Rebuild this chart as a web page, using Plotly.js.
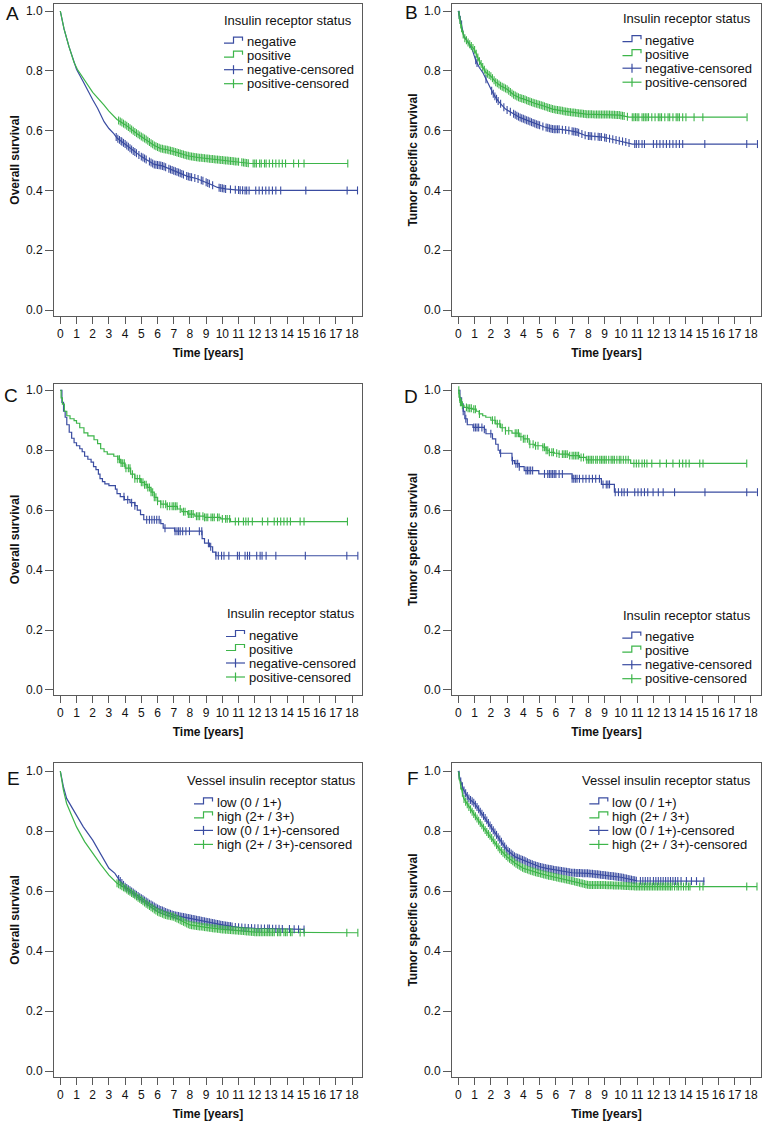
<!DOCTYPE html>
<html><head><meta charset="utf-8">
<script src="https://cdn.plot.ly/plotly-3.0.1.min.js"></script>
<style>html,body{margin:0;padding:0;background:#fff;}#chart{width:765px;height:1125px;}</style>
</head><body><div id="chart"></div>
<script>
// ---------------- DATA ----------------
const xTickVals = [0,1,2,3,4,5,6,7,8,9,10,11,12,13,14,15,16,17,18];
const xTickText = ['0','1','2','3','4','5','6','7','8','9','10','11','12','13','14','15','16','17','18'];
const yTickVals = [0,0.2,0.4,0.6,0.8,1.0];
const yTickText = ['0.0','0.2','0.4','0.6','0.8','1.0'];

const xTitle = 'Time [years]';
const yTitleOS = 'Overall survival';
const yTitleTSS = 'Tumor specific survival';
const legendTitleIR = 'Insulin receptor status';
const legendTitleVIR = 'Vessel insulin receptor status';
const namesIR = ['negative','positive','negative-censored','positive-censored'];
const namesVIR = ['low (0 / 1+)','high (2+ / 3+)','low (0 / 1+)-censored','high (2+ / 3+)-censored'];
const panelLetters = ['A','B','C','D','E','F'];

// Panel A: overall survival, insulin receptor
const A_neg_t = [0,0.23,0.54,0.85,1.0,1.4,1.67,2.0,2.3,2.7,3.0,3.3,3.5,4.0,4.5,5.0,5.4,5.8,6.3,6.8,7.3,7.85,8.4,8.9,9.3,9.7,10.2,10.8,11.3,18.36];
const A_neg_s = [1.0,0.94,0.88,0.83,0.805,0.765,0.736,0.703,0.675,0.63,0.607,0.59,0.575,0.555,0.532,0.513,0.50,0.487,0.482,0.47,0.46,0.447,0.44,0.43,0.42,0.41,0.405,0.402,0.40,0.40];
const A_pos_t = [0,0.23,0.54,0.85,1.05,1.67,2.0,2.7,3.0,3.5,4.0,4.76,5.3,5.8,6.2,6.6,7.2,7.85,8.5,9.2,9.9,10.8,11.75,17.74];
const A_pos_s = [1.0,0.94,0.88,0.828,0.805,0.756,0.728,0.685,0.665,0.637,0.62,0.589,0.57,0.55,0.54,0.536,0.527,0.516,0.51,0.506,0.502,0.497,0.49,0.49];
const A_neg_cens = [3.45,3.55,3.65,3.75,3.8,3.9,4.0,4.1,4.2,4.3,4.4,4.5,4.6,4.7,4.85,5.0,5.1,5.2,5.3,5.5,5.6,5.7,5.8,5.9,6.0,6.1,6.2,6.3,6.4,6.5,6.7,6.8,6.9,7.0,7.1,7.2,7.3,7.4,7.5,7.6,7.8,7.9,8.0,8.1,8.3,8.5,8.7,8.8,9.0,9.1,9.2,9.4,9.8,9.9,10.0,10.1,10.2,10.5,10.8,11.0,11.1,11.25,11.4,11.5,11.65,12.06,12.27,12.47,12.68,12.88,13.09,13.3,13.6,15.15,17.7,18.34];
const A_pos_cens = [3.6,3.7,3.8,3.9,4.0,4.1,4.2,4.3,4.4,4.5,4.6,4.7,4.8,4.9,5.0,5.1,5.2,5.3,5.4,5.5,5.6,5.7,5.8,5.9,6.0,6.1,6.2,6.3,6.4,6.5,6.6,6.7,6.8,6.9,7.0,7.1,7.2,7.3,7.4,7.5,7.6,7.7,7.8,7.9,8.0,8.1,8.2,8.3,8.4,8.5,8.6,8.7,8.8,8.9,9.0,9.1,9.2,9.3,9.4,9.5,9.6,9.7,9.8,9.9,10.0,10.1,10.2,10.3,10.4,10.5,10.6,10.7,10.8,10.9,11.0,11.2,11.3,11.4,11.5,11.6,11.9,12.0,12.1,12.3,12.4,12.6,12.7,12.9,13.1,13.3,13.5,13.7,13.9,14.4,14.7,15.04,17.74];

// Panel B: tumor specific survival, insulin receptor
const B_neg_t = [0,0.1,0.2,0.35,0.6,0.86,1.07,1.3,1.5,1.69,1.9,2.1,2.3,2.51,2.9,3.3,3.75,4.2,4.77,5.3,5.8,6.3,6.83,7.3,7.86,8.4,8.9,9.4,9.9,10.3,10.7,18.36];
const B_neg_s = [1.0,0.975,0.955,0.915,0.895,0.87,0.835,0.81,0.795,0.773,0.75,0.728,0.71,0.695,0.672,0.66,0.645,0.635,0.622,0.612,0.605,0.604,0.60,0.595,0.583,0.58,0.578,0.572,0.566,0.562,0.555,0.555];
const B_pos_t = [0,0.07,0.14,0.25,0.35,0.6,0.86,1.0,1.28,1.69,2.0,2.3,2.6,3.0,3.4,3.75,4.0,4.4,4.77,5.2,5.8,6.3,6.83,7.3,7.86,8.5,9.2,9.9,10.5,17.74];
const B_pos_s = [1.0,0.98,0.957,0.93,0.912,0.895,0.879,0.87,0.834,0.795,0.782,0.762,0.75,0.738,0.72,0.71,0.706,0.697,0.69,0.683,0.672,0.667,0.662,0.659,0.655,0.654,0.654,0.652,0.645,0.645];
const B_neg_cens = [0.05,0.12,0.2,1.07,1.15,1.7,2.05,2.15,2.25,2.35,2.45,2.6,2.8,3.0,3.2,3.4,3.5,3.6,3.7,3.8,3.9,4.0,4.1,4.2,4.3,4.4,4.5,4.6,4.7,4.8,4.9,5.0,5.2,5.4,5.5,5.6,5.7,5.8,5.9,6.0,6.1,6.2,6.4,6.6,6.8,7.0,7.1,7.2,7.3,7.4,7.6,7.8,8.0,8.1,8.2,8.4,8.6,8.7,8.8,9.0,9.1,9.3,9.5,9.7,9.9,10.1,10.3,10.5,10.85,10.95,11.1,11.3,11.45,12.0,12.2,12.4,12.6,12.8,13.0,13.2,13.4,13.6,13.8,15.16,17.74,18.4];
const B_pos_cens = [0.05,0.1,0.15,0.2,0.3,0.4,0.5,0.6,0.7,0.8,0.9,1.0,1.1,1.2,1.3,1.4,1.5,1.6,1.7,1.8,1.9,2.0,2.1,2.2,2.3,2.4,2.5,2.6,2.7,2.8,2.9,3.0,3.1,3.2,3.3,3.4,3.5,3.6,3.7,3.8,3.9,4.0,4.1,4.2,4.3,4.4,4.5,4.6,4.7,4.8,4.9,5.0,5.1,5.2,5.3,5.4,5.5,5.6,5.7,5.8,5.9,6.0,6.1,6.2,6.3,6.4,6.5,6.6,6.7,6.8,6.9,7.0,7.1,7.2,7.3,7.4,7.5,7.6,7.7,7.8,7.9,8.0,8.1,8.2,8.3,8.4,8.5,8.6,8.7,8.8,8.9,9.0,9.1,9.2,9.3,9.4,9.5,9.6,9.7,9.8,9.9,10.0,10.1,10.2,10.4,10.7,10.8,10.9,11.0,11.1,11.3,11.4,11.5,11.6,11.7,11.9,12.1,12.3,12.4,12.5,12.7,12.9,13.0,13.2,13.4,13.5,13.6,13.8,14.0,14.5,15.04,17.76];

// Panel C: overall survival, insulin receptor (subgroup)
const C_neg_t = [0,0.1,0.2,0.3,0.4,0.55,0.7,0.85,1.0,1.2,1.35,1.5,1.7,1.9,2.05,2.2,2.35,2.45,2.6,2.75,3.0,3.4,3.5,3.7,3.95,4.3,4.6,4.75,4.95,5.15,6.2,6.35,7.05,8.75,8.9,9.2,9.4,9.6,18.36];
const C_neg_s = [1.0,0.96,0.93,0.91,0.885,0.86,0.84,0.825,0.815,0.805,0.795,0.78,0.77,0.76,0.745,0.735,0.72,0.705,0.695,0.688,0.682,0.67,0.655,0.645,0.635,0.625,0.615,0.60,0.585,0.568,0.555,0.54,0.53,0.505,0.49,0.478,0.46,0.448,0.448];
const C_pos_t = [0,0.05,0.13,0.25,0.4,0.6,0.85,1.0,1.2,1.46,1.7,2.08,2.3,2.49,2.7,2.9,3.3,3.55,3.73,4.0,4.34,4.6,4.96,5.2,5.37,5.6,5.8,6.0,6.2,6.6,7.23,7.5,7.86,8.3,8.9,9.9,10.5,17.72];
const C_pos_s = [1.0,0.975,0.954,0.93,0.915,0.905,0.899,0.89,0.875,0.858,0.848,0.835,0.822,0.805,0.795,0.787,0.78,0.77,0.757,0.74,0.72,0.705,0.693,0.685,0.676,0.66,0.643,0.63,0.62,0.613,0.604,0.595,0.587,0.58,0.576,0.571,0.562,0.562];
const C_neg_cens = [3.93,4.16,4.4,4.6,5.33,5.5,5.65,5.8,5.95,6.1,6.46,7.08,7.2,7.3,7.4,7.55,7.75,7.97,8.58,8.73,9.14,9.28,9.6,9.75,9.95,10.1,10.4,10.93,11.05,11.4,11.55,11.68,12.12,12.33,12.45,12.7,13.3,15.12,17.68,18.36];
const C_pos_cens = [3.55,3.65,3.75,3.85,3.95,4.05,4.2,4.3,4.45,4.6,4.75,4.9,5.0,5.1,5.2,5.3,5.4,5.5,5.6,5.7,5.8,5.9,6.0,6.2,6.35,6.5,6.6,6.75,6.9,7.0,7.1,7.2,7.4,7.6,7.7,7.9,8.0,8.1,8.2,8.4,8.5,8.6,8.8,8.9,9.0,9.1,9.3,9.4,9.5,9.7,9.8,10.0,10.2,10.3,10.45,10.8,11.0,11.3,11.45,11.6,11.85,12.47,12.8,13.2,13.4,13.6,13.8,14.0,14.2,14.8,15.04,17.72];

// Panel D: tumor specific survival, insulin receptor (subgroup)
const D_neg_t = [0,0.1,0.2,0.3,0.4,0.55,0.9,1.6,1.7,2.1,2.3,2.45,2.55,3.3,3.45,3.75,4.05,4.95,7.0,8.8,9.6,18.36];
const D_neg_s = [1.0,0.975,0.955,0.93,0.905,0.885,0.876,0.87,0.855,0.838,0.82,0.80,0.79,0.765,0.755,0.745,0.732,0.721,0.705,0.686,0.66,0.66];
const D_pos_t = [0,0.04,0.1,0.2,0.35,0.6,0.86,1.1,1.28,1.5,1.69,2.0,2.3,2.6,2.9,3.3,3.75,4.0,4.36,4.7,5.19,5.4,5.6,5.9,6.2,6.8,7.45,7.86,10.6,17.74];
const D_pos_s = [1.0,0.977,0.96,0.95,0.943,0.94,0.937,0.93,0.921,0.915,0.91,0.90,0.888,0.875,0.865,0.857,0.845,0.838,0.82,0.815,0.81,0.80,0.793,0.79,0.787,0.782,0.776,0.768,0.756,0.756];
const D_neg_cens = [0.3,0.46,0.95,1.05,1.15,1.25,1.45,1.6,2.0,2.6,3.33,3.54,3.65,3.75,4.16,4.25,4.35,4.45,4.57,5.3,5.5,5.6,5.7,5.8,5.9,6.0,6.2,6.4,7.0,7.1,7.2,7.3,7.45,7.66,7.85,8.05,8.25,8.45,8.68,8.9,9.1,9.2,9.3,9.65,9.85,10.05,10.2,10.4,10.85,11.05,11.25,11.45,11.65,11.98,12.3,12.6,13.3,15.17,17.74,18.4];
const D_pos_cens = [0.03,0.08,0.13,0.18,0.25,0.5,0.6,0.7,0.8,0.95,1.05,1.3,2.1,2.25,2.4,2.55,2.7,2.9,3.1,3.5,3.6,3.7,3.85,4.0,4.1,4.25,4.4,4.6,4.75,4.9,5.2,5.3,5.4,5.5,5.6,5.75,5.85,6.05,6.2,6.4,6.5,6.6,6.7,6.85,7.0,7.1,7.2,7.3,7.4,7.55,7.7,7.9,8.0,8.1,8.2,8.3,8.45,8.55,8.7,8.8,8.9,9.0,9.1,9.25,9.4,9.5,9.6,9.75,9.9,10.0,10.15,10.3,10.45,10.8,10.95,11.1,11.3,11.45,11.6,11.9,12.4,12.8,13.2,13.6,13.8,14.0,14.2,14.85,15.05,17.74];

// Panel E: overall survival, vessel insulin receptor
const E_low_t = [0,0.1,0.19,0.39,0.7,1.0,1.42,2.0,2.45,2.75,3.0,3.37,3.6,4.0,4.5,5.0,5.5,6.0,6.5,7.0,8.0,9.0,10.0,11.0,12.0,15.04];
const E_low_s = [1.0,0.97,0.948,0.909,0.881,0.853,0.814,0.77,0.726,0.70,0.676,0.659,0.64,0.614,0.595,0.576,0.558,0.542,0.53,0.52,0.509,0.498,0.487,0.479,0.476,0.472];
const E_high_t = [0,0.1,0.19,0.39,0.7,1.0,1.5,2.0,2.5,3.0,3.5,4.0,4.5,5.0,5.5,6.0,6.5,7.0,7.5,8.0,9.0,10.0,11.0,12.0,18.36];
const E_high_s = [1.0,0.965,0.937,0.892,0.85,0.814,0.765,0.726,0.688,0.653,0.626,0.609,0.59,0.57,0.55,0.531,0.52,0.514,0.50,0.487,0.479,0.472,0.468,0.463,0.461];
const E_low_cens = [3.6,3.7,3.8,3.9,4.0,4.1,4.2,4.3,4.4,4.5,4.6,4.7,4.8,4.9,5.0,5.1,5.2,5.3,5.4,5.5,5.6,5.7,5.8,5.9,6.0,6.1,6.2,6.3,6.4,6.5,6.6,6.7,6.8,6.9,7.0,7.1,7.2,7.3,7.4,7.5,7.6,7.7,7.8,7.9,8.0,8.1,8.2,8.3,8.4,8.5,8.6,8.7,8.8,8.9,9.0,9.1,9.2,9.3,9.4,9.5,9.6,9.7,9.8,9.9,10.0,10.1,10.2,10.3,10.4,10.5,10.6,10.8,11.0,11.2,11.4,11.6,11.8,12.0,12.2,12.4,12.6,12.8,12.9,13.1,13.3,13.5,13.7,14.14,14.43,14.7,15.04];
const E_high_cens = [3.5,3.6,3.7,3.8,3.9,4.0,4.1,4.2,4.3,4.4,4.5,4.6,4.7,4.8,4.9,5.0,5.1,5.2,5.3,5.4,5.5,5.6,5.7,5.8,5.9,6.0,6.1,6.2,6.3,6.4,6.5,6.6,6.7,6.8,6.9,7.0,7.1,7.2,7.3,7.4,7.5,7.6,7.7,7.8,7.9,8.0,8.1,8.2,8.3,8.4,8.5,8.6,8.7,8.8,8.9,9.0,9.1,9.2,9.3,9.4,9.5,9.6,9.7,9.8,9.9,10.0,10.1,10.2,10.3,10.4,10.5,10.6,10.7,10.8,10.9,11.0,11.1,11.2,11.3,11.4,11.5,11.6,11.7,11.8,11.9,12.0,12.1,12.2,12.3,12.4,12.5,12.6,12.7,12.8,12.9,13.0,13.1,13.2,13.4,13.5,13.6,13.8,13.9,14.0,14.2,14.3,14.8,15.05,17.68,18.36];

// Panel F: tumor specific survival, vessel insulin receptor
const F_low_t = [0,0.12,0.33,0.64,1.0,1.36,1.7,2.0,2.5,3.0,3.5,4.0,4.5,5.0,5.5,6.0,7.0,8.0,9.0,10.0,11.0,15.14];
const F_low_s = [1.0,0.97,0.937,0.909,0.892,0.864,0.84,0.814,0.776,0.737,0.714,0.703,0.69,0.681,0.675,0.67,0.661,0.659,0.653,0.646,0.634,0.633];
const F_high_t = [0,0.12,0.33,0.64,1.0,1.36,1.7,2.0,2.5,3.0,3.5,4.0,4.5,5.0,5.5,6.0,6.5,7.0,7.5,8.0,9.0,10.0,11.0,18.37];
const F_high_s = [1.0,0.959,0.909,0.881,0.853,0.826,0.80,0.781,0.742,0.714,0.693,0.676,0.667,0.659,0.652,0.646,0.64,0.634,0.627,0.62,0.62,0.618,0.615,0.615];
const F_low_cens = [0.05,0.15,0.25,0.35,0.45,0.55,0.65,0.75,0.85,0.95,1.05,1.15,1.25,1.35,1.45,1.55,1.65,1.75,1.85,1.95,2.05,2.15,2.25,2.35,2.45,2.55,2.65,2.75,2.85,2.95,3.05,3.15,3.25,3.35,3.45,3.55,3.65,3.75,3.85,3.95,4.05,4.15,4.25,4.35,4.45,4.55,4.65,4.75,4.85,4.95,5.05,5.15,5.25,5.35,5.45,5.55,5.65,5.75,5.85,5.95,6.05,6.15,6.25,6.35,6.45,6.55,6.65,6.75,6.85,6.95,7.05,7.15,7.25,7.35,7.45,7.55,7.65,7.75,7.85,7.95,8.05,8.15,8.25,8.35,8.45,8.55,8.65,8.75,8.85,8.95,9.05,9.15,9.25,9.35,9.45,9.55,9.65,9.75,9.85,9.95,10.05,10.15,10.25,10.35,10.45,10.55,10.65,10.75,10.85,10.95,11.2,11.35,11.5,11.65,11.8,12.0,12.15,12.3,12.45,12.6,12.75,12.9,13.05,13.2,13.35,13.5,13.7,14.03,14.34,14.65,15.1];
const F_high_cens = [0.05,0.15,0.25,0.35,0.45,0.55,0.65,0.75,0.85,0.95,1.05,1.15,1.25,1.35,1.45,1.55,1.65,1.75,1.85,1.95,2.05,2.15,2.25,2.35,2.45,2.55,2.65,2.75,2.85,2.95,3.05,3.15,3.25,3.35,3.45,3.55,3.65,3.75,3.85,3.95,4.05,4.15,4.25,4.35,4.45,4.55,4.65,4.75,4.85,4.95,5.05,5.15,5.25,5.35,5.45,5.55,5.65,5.75,5.85,5.95,6.05,6.15,6.25,6.35,6.45,6.55,6.65,6.75,6.85,6.95,7.05,7.15,7.25,7.35,7.45,7.55,7.65,7.75,7.85,7.95,8.05,8.15,8.25,8.35,8.45,8.55,8.65,8.75,8.85,8.95,9.05,9.15,9.25,9.35,9.45,9.55,9.65,9.75,9.85,9.95,10.05,10.15,10.25,10.35,10.45,10.55,10.65,10.75,10.85,10.95,11.05,11.15,11.25,11.35,11.45,11.55,11.65,11.75,11.85,11.95,12.05,12.15,12.25,12.35,12.45,12.55,12.65,12.75,12.85,12.95,13.05,13.15,13.3,13.45,13.55,13.7,13.85,14.0,14.15,14.25,14.85,15.05,17.74,18.37];

// ---------------- LAYOUT / STYLE ----------------
const FONT = '"Liberation Sans", Arial, Helvetica, sans-serif';
const BLUE = '#3a4ca1';
const GREEN = '#3db54a';
const W = 765, H = 1125;
const colPx = [[54, 362], [452, 761]];
const rowPx = [[4, 316], [384, 695], [763, 1077]];
const yRanges = [[-0.020, 1.0234], [-0.0167, 1.021], [-0.020, 1.027]];
const xRange = [-0.389, 18.617];

const panels = [
  {ytitle: yTitleOS,  lt: legendTitleIR,  names: namesIR,  shape: 'linear', c: [[A_neg_t, A_neg_s, A_neg_cens], [A_pos_t, A_pos_s, A_pos_cens]], leg: {x: 223, y: 20, ix: 224},   let: {x: 12.5, y: 13.5}},
  {ytitle: yTitleTSS, lt: legendTitleIR,  names: namesIR,  shape: 'linear', c: [[B_neg_t, B_neg_s, B_neg_cens], [B_pos_t, B_pos_s, B_pos_cens]], leg: {x: 622, y: 18.5, ix: 622.5}, let: {x: 411.5, y: 13}},
  {ytitle: yTitleOS,  lt: legendTitleIR,  names: namesIR,  shape: 'hv',     c: [[C_neg_t, C_neg_s, C_neg_cens], [C_pos_t, C_pos_s, C_pos_cens]], leg: {x: 226, y: 613.3, ix: 226}, let: {x: 11, y: 395.5}},
  {ytitle: yTitleTSS, lt: legendTitleIR,  names: namesIR,  shape: 'hv',     c: [[D_neg_t, D_neg_s, D_neg_cens], [D_pos_t, D_pos_s, D_pos_cens]], leg: {x: 622, y: 615, ix: 622.3},  let: {x: 410.5, y: 396}},
  {ytitle: yTitleOS,  lt: legendTitleVIR, names: namesVIR, shape: 'linear', c: [[E_low_t, E_low_s, E_low_cens], [E_high_t, E_high_s, E_high_cens]], leg: {x: 185.7, y: 780.7, ix: 194}, let: {x: 13.5, y: 778}},
  {ytitle: yTitleTSS, lt: legendTitleVIR, names: namesVIR, shape: 'linear', c: [[F_low_t, F_low_s, F_low_cens], [F_high_t, F_high_s, F_high_cens]], leg: {x: 581.3, y: 780.7, ix: 589.3}, let: {x: 412.5, y: 778}}
];
const colors = [BLUE, GREEN];

function survAt(ts, ss, t, shape) {
  if (t <= ts[0]) return ss[0];
  for (let i = 1; i < ts.length; i++) {
    if (t < ts[i]) {
      if (shape === 'hv') return ss[i - 1];
      const f = (t - ts[i - 1]) / (ts[i] - ts[i - 1]);
      return ss[i - 1] + f * (ss[i] - ss[i - 1]);
    }
  }
  return ss[ss.length - 1];
}
const PX = v => v / W;
const PY = v => 1 - v / H;

const traces = [];
const layout = {
  width: W, height: H, margin: {l: 0, r: 0, t: 0, b: 0},
  paper_bgcolor: '#fff', plot_bgcolor: '#fff', showlegend: false,
  font: {family: FONT, color: '#111'},
  shapes: [], annotations: []
};

panels.forEach((p, i) => {
  const col = i % 2, row = Math.floor(i / 2);
  const sfx = i === 0 ? '' : String(i + 1);
  const xa = 'x' + sfx, ya = 'y' + sfx;
  layout['xaxis' + sfx] = {
    domain: [PX(colPx[col][0]), PX(colPx[col][1])], anchor: ya, range: xRange,
    tickmode: 'array', tickvals: xTickVals, ticktext: xTickText,
    showline: true, mirror: true, linecolor: '#5a5a5a', linewidth: 1,
    ticks: 'outside', ticklen: 7, tickcolor: '#5a5a5a', tickwidth: 1,
    showgrid: false, zeroline: false, fixedrange: true,
    tickfont: {family: FONT, size: 12, color: '#111'},
    title: {text: xTitle, standoff: 8, font: {family: FONT, size: 12, color: '#111', weight: 'bold'}}
  };
  layout['yaxis' + sfx] = {
    domain: [PY(rowPx[row][1]), PY(rowPx[row][0])], anchor: xa, range: yRanges[row],
    tickmode: 'array', tickvals: yTickVals, ticktext: yTickText,
    showline: true, mirror: true, linecolor: '#5a5a5a', linewidth: 1,
    ticks: 'outside', ticklen: 8, tickcolor: '#5a5a5a', tickwidth: 1,
    showgrid: false, zeroline: false, fixedrange: true,
    tickfont: {family: FONT, size: 12, color: '#111'},
    title: {text: p.ytitle, standoff: 3, font: {family: FONT, size: 12, color: '#111', weight: 'bold'}}
  };
  // curves
  p.c.forEach((cv, k) => {
    traces.push({
      type: 'scatter', mode: 'lines', x: cv[0], y: cv[1], xaxis: xa, yaxis: ya,
      name: p.names[k], line: {color: colors[k], width: 1.2, shape: p.shape}, hoverinfo: 'skip'
    });
  });
  p.c.forEach((cv, k) => {
    traces.push({
      type: 'scatter', mode: 'markers', x: cv[2], y: cv[2].map(t => survAt(cv[0], cv[1], t, p.shape)),
      xaxis: xa, yaxis: ya, name: p.names[k + 2],
      marker: {symbol: 'line-ns', size: 5.7, line: {color: colors[k], width: 1.1}}, hoverinfo: 'skip'
    });
  });
  // panel letter
  layout.annotations.push({text: panelLetters[i], x: PX(p.let.x), y: PY(p.let.y), xref: 'paper', yref: 'paper',
    xanchor: 'center', yanchor: 'middle', showarrow: false, font: {family: FONT, size: 19, color: '#111'}});
  // legend (SPSS style)
  const L = p.leg;
  layout.annotations.push({text: p.lt, x: PX(L.x - 1), y: PY(L.y), xref: 'paper', yref: 'paper',
    xanchor: 'left', yanchor: 'middle', showarrow: false, font: {family: FONT, size: 13, color: '#111'}});
  for (let k = 0; k < 4; k++) {
    const yy = L.y + 21.7 + 14 * k;
    const c = colors[k % 2];
    layout.annotations.push({text: p.names[k], x: PX(L.ix + 20.5), y: PY(yy), xref: 'paper', yref: 'paper',
      xanchor: 'left', yanchor: 'middle', showarrow: false, font: {family: FONT, size: 13, color: '#111'}});
    if (k < 2) {
      const path = 'M' + PX(L.ix) + ',' + PY(yy + 1.5) + ' L' + PX(L.ix + 9.5) + ',' + PY(yy + 1.5) +
        ' L' + PX(L.ix + 9.5) + ',' + PY(yy - 4.5) + ' L' + PX(L.ix + 18.5) + ',' + PY(yy - 4.5) +
        ' L' + PX(L.ix + 18.5) + ',' + PY(yy - 1);
      layout.shapes.push({type: 'path', xref: 'paper', yref: 'paper', path: path, line: {color: c, width: 1.2}});
    } else {
      layout.shapes.push({type: 'line', xref: 'paper', yref: 'paper', x0: PX(L.ix), x1: PX(L.ix + 19), y0: PY(yy), y1: PY(yy), line: {color: c, width: 1.2}});
      layout.shapes.push({type: 'line', xref: 'paper', yref: 'paper', x0: PX(L.ix + 9.5), x1: PX(L.ix + 9.5), y0: PY(yy - 4.5), y1: PY(yy + 4.5), line: {color: c, width: 1.2}});
    }
  }
});

Plotly.newPlot('chart', traces, layout, {displayModeBar: false, staticPlot: true});
</script>
</body></html>
